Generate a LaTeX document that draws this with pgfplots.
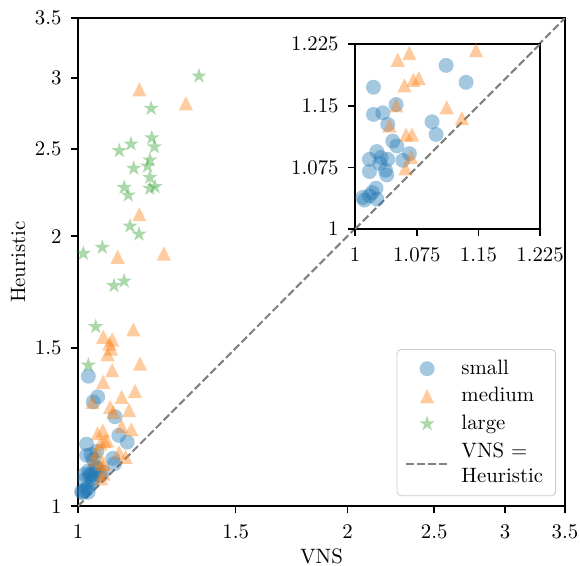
\documentclass[border=0pt]{standalone}
\usepackage{pgfplots}
\usepackage{pgfplotstable}
\pgfplotsset{compat=1.18}
\definecolor{tabblue}{RGB}{31,119,180}
\definecolor{taborange}{RGB}{255,127,14}
\definecolor{tabgreen}{RGB}{44,160,44}
\pgfdeclareplotmark{mstar}{%
 \pgfpathmoveto{\pgfqpoint{0pt}{\pgfplotmarksize}}%
 \pgfpathlineto{\pgfqpoint{-0.2245\pgfplotmarksize}{0.309\pgfplotmarksize}}%
 \pgfpathlineto{\pgfqpoint{-0.951\pgfplotmarksize}{0.309\pgfplotmarksize}}%
 \pgfpathlineto{\pgfqpoint{-0.3633\pgfplotmarksize}{-0.118\pgfplotmarksize}}%
 \pgfpathlineto{\pgfqpoint{-0.588\pgfplotmarksize}{-0.809\pgfplotmarksize}}%
 \pgfpathlineto{\pgfqpoint{0pt}{-0.382\pgfplotmarksize}}%
 \pgfpathlineto{\pgfqpoint{0.588\pgfplotmarksize}{-0.809\pgfplotmarksize}}%
 \pgfpathlineto{\pgfqpoint{0.3633\pgfplotmarksize}{-0.118\pgfplotmarksize}}%
 \pgfpathlineto{\pgfqpoint{0.951\pgfplotmarksize}{0.309\pgfplotmarksize}}%
 \pgfpathlineto{\pgfqpoint{0.2245\pgfplotmarksize}{0.309\pgfplotmarksize}}%
 \pgfpathclose
 \pgfusepathqfill}
\pgfdeclareplotmark{mtri}{%
 \pgfpathmoveto{\pgfqpoint{0pt}{\pgfplotmarksize}}%
 \pgfpathlineto{\pgfqpoint{-\pgfplotmarksize}{-\pgfplotmarksize}}%
 \pgfpathlineto{\pgfqpoint{\pgfplotmarksize}{-\pgfplotmarksize}}%
 \pgfpathclose
 \pgfusepathqfill}
\pgfdeclareplotmark{mcirc}{%
 \pgfpathcircle{\pgfpointorigin}{\pgfplotmarksize}%
 \pgfusepathqfill}

\pgfplotstableread{
x y
1.0223 1.1725
1.1107 1.1991
1.1350 1.1785
1.0499 1.1515
1.0223 1.1394
1.0337 1.1414
1.0397 1.1273
1.0936 1.1305
1.0985 1.1151
1.0458 1.1070
1.0507 1.1010
1.0174 1.0848
1.0264 1.0942
1.0316 1.0870
1.0397 1.0848
1.0580 1.0836
1.0660 1.0917
1.0174 1.0700
1.0369 1.0715
1.0385 1.0658
1.0255 1.0497
1.0207 1.0444
1.0093 1.0384
1.0113 1.0352
1.0264 1.0364
1.0174 1.0404
1.0300 1.0800
1.0270 1.3960
1.0520 1.3240
1.0400 1.3070
1.0999 1.2580
}\small

\pgfplotstableread{
x y
1.1710 2.915
1.3200 2.812
1.1710 2.116
1.1075 1.897
1.2470 1.913
1.1530 1.574
1.0670 1.545
1.0920 1.534
1.0840 1.518
1.0890 1.499
1.0790 1.477
1.1730 1.442
1.0920 1.418
1.0670 1.376
1.1580 1.344
1.1190 1.324
1.0375 1.307
1.0860 1.290
1.1400 1.280
1.0950 1.274
1.0519 1.2060
1.0660 1.2141
1.1188 1.2280
1.1470 1.2177
1.0600 1.1749
1.0709 1.1815
1.0774 1.1836
1.1115 1.1482
1.1300 1.1350
1.0499 1.1505
1.0418 1.1260
1.0620 1.1150
1.0693 1.1150
1.0680 1.0876
1.0612 1.0740
}\medium

\pgfplotstableread{
x y
1.3650 3.016
1.2070 2.776
1.2090 2.574
1.2170 2.515
1.1460 2.533
1.1120 2.490
1.2030 2.431
1.1960 2.394
1.1540 2.380
1.2030 2.325
1.2190 2.270
1.2030 2.260
1.1260 2.266
1.1380 2.222
1.1430 2.052
1.1700 2.010
1.0645 1.943
1.0138 1.913
1.1260 1.782
1.0970 1.761
1.0466 1.585
1.0270 1.436
}\large

\pgfplotsset{
  mystyle/.style={
    scale only axis,
    tick align=outside,
    tick pos=left,
    major tick length=3.5pt,
    tick style={line width=0.8pt, black},
    axis line style={line width=0.8pt},
    xminorticks=false, yminorticks=false,
    xticklabel style={yshift=-1.7pt},
    yticklabel style={xshift=-0.9pt},
  },
  mkimg/.style={legend image code/.code={\draw[##1] plot coordinates {(10pt,0pt)};}},
  sm/.style={only marks, mark=mcirc, mark size=3.6pt, color=tabblue, opacity=0.4, mkimg},
  md/.style={only marks, mark=mtri, mark size=3.4pt, color=taborange, opacity=0.4, mkimg},
  lg/.style={only marks, mark=mstar, mark size=3.9pt, color=tabgreen, opacity=0.4, mkimg},
  diag/.style={black!50, line width=1pt, dash pattern=on 3.7pt off 1.6pt,
    legend image code/.code={\draw[##1] (0pt,0pt) -- (20pt,0pt);}},
}

\begin{document}
\begin{tikzpicture}
\path[use as bounding box] (-37.5pt,-28.4pt) rectangle (241.3pt,243.3pt);
\begin{axis}[
  mystyle,
  name=main,
  width=234.1pt, height=234.6pt,
  xmode=log, ymode=log,
  xmin=1, xmax=3.5, ymin=1, ymax=3.5,
  xtick={1,1.5,2,2.5,3,3.5}, xticklabels={1,1.5,2,2.5,3,3.5},
  ytick={1,1.5,2,2.5,3,3.5}, yticklabels={1,1.5,2,2.5,3,3.5},
  xlabel={VNS}, ylabel={Heuristic},
  every axis x label/.style={at={(axis description cs:0.5,-0.102)}, anchor=center},
  every axis y label/.style={at={(axis description cs:-0.123,0.5)}, anchor=center, rotate=90},
  legend style={at={(rel axis cs:0.9815,0.0205)}, anchor=south east,
    draw=black!20, rounded corners=2pt, fill=white,
    cells={anchor=west, align=left}, row sep=0.8pt, column sep=4pt,
    inner xsep=4pt, inner ysep=3pt},
  legend cell align=left,
]
\addplot[sm] table {\small};
\addlegendentry{small}
\addplot[md] table {\medium};
\addlegendentry{medium}
\addplot[lg] table {\large};
\addlegendentry{large}
\addplot[diag] coordinates {(1,1) (3.5,3.5)};
\addlegendentry{VNS =\\Heuristic}
\end{axis}
\begin{axis}[
  mystyle,
  at={(main.south west)}, anchor=south west, xshift=133.2pt, yshift=133.2pt,
  width=88.9pt, height=88.9pt,
  xmin=1, xmax=1.225, ymin=1, ymax=1.225,
  xtick={1,1.075,1.15,1.225}, xticklabels={1,1.075,1.15,1.225},
  ytick={1,1.075,1.15,1.225}, yticklabels={1,1.075,1.15,1.225},
  axis background/.style={fill=white},
]
\addplot[sm] table {\small};
\addplot[md] table {\medium};
\addplot[lg] table {\large};
\addplot[diag] coordinates {(1,1) (1.225,1.225)};
\end{axis}
\end{tikzpicture}
\end{document}
